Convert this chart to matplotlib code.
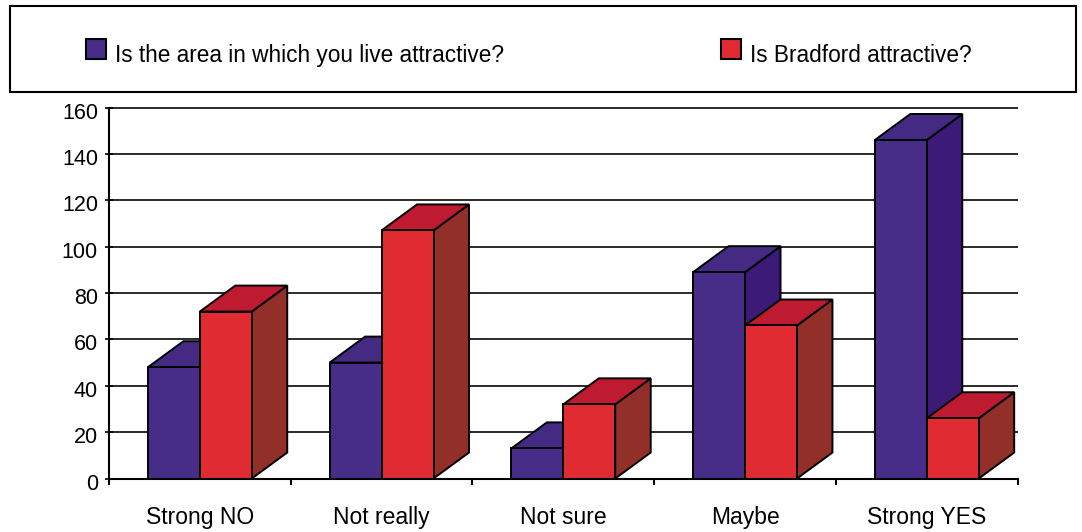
import matplotlib.pyplot as plt
import matplotlib.transforms as mtransforms
from matplotlib.patches import Polygon, Rectangle

categories = ["Strong NO", "Not really", "Not sure", "Maybe", "Strong YES"]
area_values = [48, 50, 13, 89, 146]
bradford_values = [72, 107, 32, 66, 26]
series_labels = ["Is the area in which you live attractive?", "Is Bradford attractive?"]
y_ticks = [0, 20, 40, 60, 80, 100, 120, 140, 160]

# front / top / side shades for each series
area_colors = ("#472d88", "#452a84", "#3c1a78")
bradford_colors = ("#e02b33", "#be1a30", "#932f29")

plt.rcParams['font.family'] = ['Liberation Sans', 'DejaVu Sans']

W, H = 1082, 532
fig = plt.figure(figsize=(W / 100, H / 100), dpi=100)


def fx(px):
    return px / W


def fy(py):
    return 1 - py / H


ax = fig.add_axes([fx(109), fy(478.5), fx(1017.7) - fx(109), fy(107.5) - fy(478.5)])
ax.set_xlim(0, 5)
ax.set_ylim(0, 160)

bar_w = 1 / 3.5          # gap width 150%
depth_x = 0.195          # pseudo-3D depth, in category units
depth_y = 11.2           # pseudo-3D depth, in value units
edge = dict(ec="black", lw=1.4, joinstyle="miter", zorder=3)


def draw_bar(x0, v, colors):
    front, top, side = colors
    x1 = x0 + bar_w
    ax.add_patch(Polygon([(x1, 0), (x1 + depth_x, depth_y), (x1 + depth_x, v + depth_y), (x1, v)],
                         fc=side, **edge))
    ax.add_patch(Polygon([(x0, v), (x1, v), (x1 + depth_x, v + depth_y), (x0 + depth_x, v + depth_y)],
                         fc=top, **edge))
    ax.add_patch(Rectangle((x0, 0), bar_w, v, fc=front, **edge))


# gridlines sit behind the bars
ax.hlines(y_ticks, 0, 5, colors="#2a2a2a", lw=1.4, zorder=1, clip_on=False)

for i in range(len(categories)):
    left = i + (1 - 2 * bar_w) / 2
    draw_bar(left, area_values[i], area_colors)
    draw_bar(left + bar_w, bradford_values[i], bradford_colors)

for side in ("top", "right"):
    ax.spines[side].set_visible(False)
for side in ("left", "bottom"):
    ax.spines[side].set_color("black")
    ax.spines[side].set_linewidth(1.5)
    ax.spines[side].set_zorder(4)

ax.set_yticks(y_ticks)
ax.set_yticklabels([str(t) for t in y_ticks])
ax.tick_params(axis="y", length=6, width=1.2, direction="inout", pad=5, labelsize=15.5, colors="black")
# value labels sit a touch below their gridlines
shift = mtransforms.ScaledTranslation(0, -3 / 100, fig.dpi_scale_trans)
for lab in ax.get_yticklabels():
    lab.set_transform(lab.get_transform() + shift)

ax.set_xticks([i + 0.5 for i in range(len(categories))])
ax.set_xticklabels(categories)
ax.set_xticks(range(len(categories) + 1), minor=True)
ax.tick_params(axis="x", which="major", length=0, pad=20, labelsize=16.5)
ax.tick_params(axis="x", which="minor", length=4, width=1.5, direction="out")

# legend box along the top
fig.patches.append(Rectangle((fx(9.5), fy(91.7)), fx(1076) - fx(9.5), fy(6) - fy(91.7),
                             transform=fig.transFigure, fc="white", ec="black", lw=1.5))
legend_items = [(85.7, area_colors[0], series_labels[0]), (720.7, bradford_colors[0], series_labels[1])]
for px, color, label in legend_items:
    fig.patches.append(Rectangle((fx(px), fy(58.5)), fx(20), 20 / H, transform=fig.transFigure,
                                 fc=color, ec="black", lw=1.5))
    fig.text(fx(px + 29), fy(61.7), label, fontsize=16.3, va="baseline", ha="left")

fig.savefig("out.png", dpi=100)
